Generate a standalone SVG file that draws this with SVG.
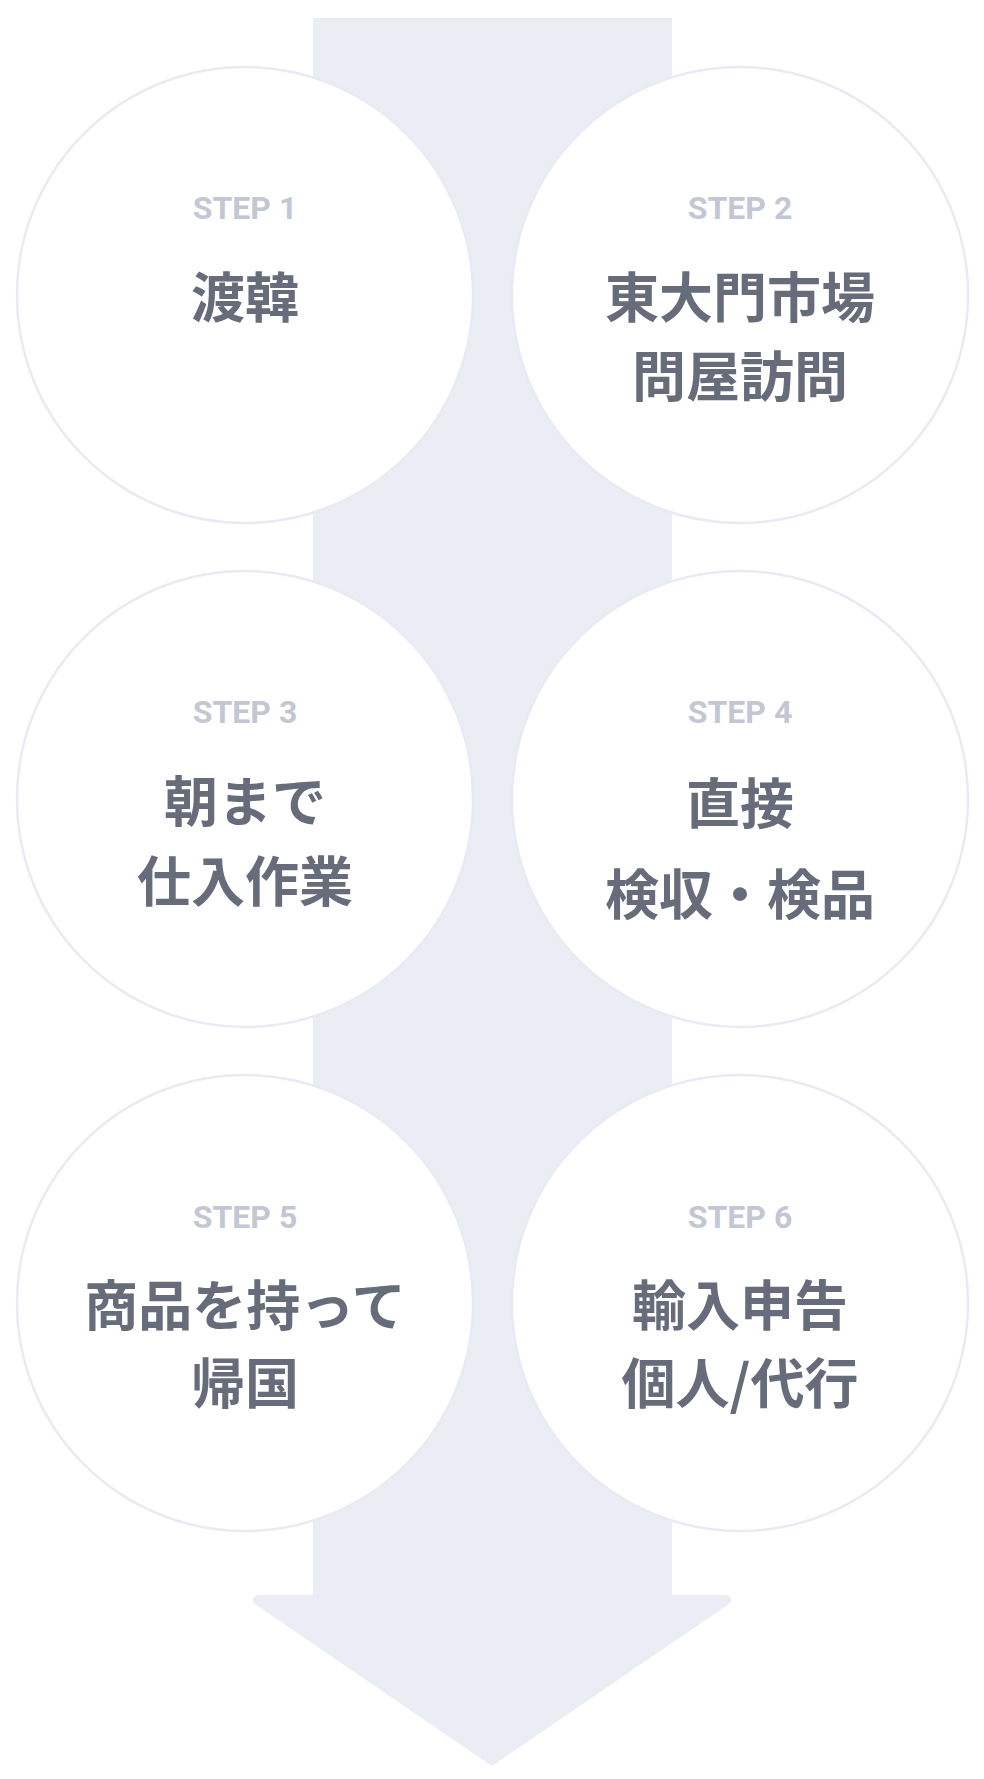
<svg xmlns="http://www.w3.org/2000/svg" width="984" height="1779" viewBox="0 0 984 1779">
<style>
.c{fill:#ffffff;stroke:#e9eaf3;stroke-width:2.5}
.s{font-family:Roboto,"Liberation Sans",sans-serif;font-weight:700;font-size:32px;fill:#c3c7d3;text-anchor:middle}
.t{font-family:"Noto Sans CJK JP","Noto Sans",sans-serif;font-weight:700;font-size:54px;fill:#676c7a;text-anchor:middle}
</style>
<g id="connectors">
<rect x="313" y="18" width="359" height="1582" fill="#eaedf4"/>
<path d="M258 1600 L726 1600 L492 1760 Z" fill="#eaedf4" stroke="#eaedf4" stroke-width="10" stroke-linejoin="round"/>
</g>
<g id="step1"><circle class="c" cx="245" cy="295" r="228"/><text class="s" x="245" y="219">STEP 1</text><text class="t" x="245" y="318">渡韓</text></g>
<g id="step2"><circle class="c" cx="740" cy="295" r="228"/><text class="s" x="740" y="219">STEP 2</text><text class="t" x="740" y="318">東大門市場</text><text class="t" x="740" y="397">問屋訪問</text></g>
<g id="step3"><circle class="c" cx="245" cy="799" r="228"/><text class="s" x="245" y="723">STEP 3</text><text class="t" x="245" y="822">朝まで</text><text class="t" x="245" y="902">仕入作業</text></g>
<g id="step4"><circle class="c" cx="740" cy="799" r="228"/><text class="s" x="740" y="723">STEP 4</text><text class="t" x="740" y="824">直接</text><text class="t" x="740" y="915">検収・検品</text></g>
<g id="step5"><circle class="c" cx="245" cy="1303" r="228"/><text class="s" x="245" y="1228">STEP 5</text><text class="t" x="245" y="1326">商品を持って</text><text class="t" x="245" y="1404">帰国</text></g>
<g id="step6"><circle class="c" cx="740" cy="1303" r="228"/><text class="s" x="740" y="1228">STEP 6</text><text class="t" x="740" y="1326">輸入申告</text><text class="t" x="740" y="1404">個人/代行</text></g>
</svg>
